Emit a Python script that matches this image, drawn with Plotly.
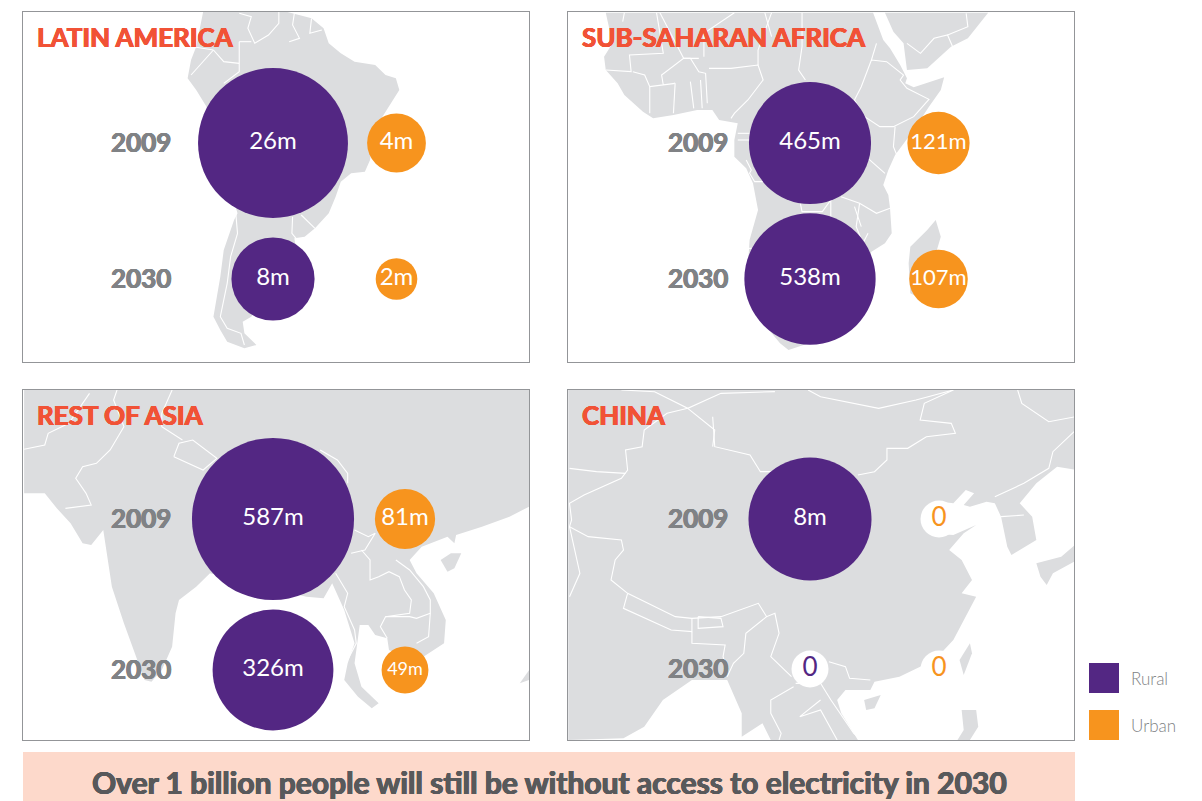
import plotly.graph_objects as go

W, H = 1202, 801
# ---- data (people without electricity, millions) ----
YEARS = ["2009", "2030"]
AREAS = ["Rural", "Urban"]
PANELS = ["LATIN AMERICA", "SUB-SAHARAN AFRICA", "REST OF ASIA", "CHINA"]
LATAM_RURAL = [26, 8]
LATAM_URBAN = [4, 2]
AFRICA_RURAL = [465, 538]
AFRICA_URBAN = [121, 107]
ASIA_RURAL = [587, 326]
ASIA_URBAN = [81, 49]
CHINA_RURAL = [8, 0]
CHINA_URBAN = [0, 0]
BANNER = "Over 1 billion people will still be without access to electricity in 2030"

PURPLE, ORANGE, LAND, GREY, RED = "#532783", "#F7941E", "#DCDDDF", "#808285", "#F15236"
FONT = "Lato"

def heavy(c):
    return f"0.6px 0 0 {c}, -0.6px 0 0 {c}, 0 0.4px 0 {c}, 0 -0.4px 0 {c}"

# ---- background map sketches, in zoom-crop coordinates ----
LATAM_LAND = [[(590,36),(835,36),(905,55),(940,85),(955,130),(990,160),(1030,185),(1090,195),(1120,225),(1150,235),(1160,270),
  (1130,320),(1105,360),(1085,420),(1075,480),(1060,515),(1020,520),(990,545),(975,590),(955,640),(915,685),(885,710),(855,715),
  (860,745),(875,790),(840,860),(760,900),(730,950),(705,965),(710,1000),(745,1035),(710,1045),(660,1025),(640,990),(620,950),
  (630,890),(640,830),(650,750),(680,660),(690,640),(600,320),(570,270),(545,235),(555,180),(570,140)]]
LATAM_LINES = [[(695,40),(730,50),(720,85),(740,130),(780,105),(810,70),(810,36)],[(855,40),(850,75),(870,115),(840,125)],
  [(905,55),(900,100),(935,90)],[(695,125),(730,125)],[(695,125),(695,215),(650,250)],[(620,150),(650,185),(695,190)],
  [(620,150),(585,190),(555,225)],[(560,140),(620,150)],[(685,640),(690,700),(670,770),(660,850),(640,950),(660,985),(700,1000),(710,1035)],
  [(850,650),(848,700),(860,715)],[(875,645),(915,685)]]
AFRICA_LAND = [[(150,38),(940,38),(970,120),(990,145),(1020,195),(1040,235),(1035,250),(1060,262),(1150,232),(1140,270),(1105,320),
  (1060,390),(1005,465),(985,510),(970,555),(985,585),(990,625),(995,700),(975,730),(935,755),(870,950),(750,1030),(690,1050),(665,1030),
  (600,950),(570,800),(575,720),(600,630),(585,550),(565,505),(530,470),(530,420),(540,370),(485,360),(465,330),(420,330),(350,345),
  (290,355),(260,335),(205,285),(185,250),(150,210),(145,170),(170,130)],
  [(975,38),(1000,95),(1030,130),(1040,210),(1100,205),(1170,140),(1220,115),(1280,38)],
  [(1125,660),(1140,710),(1130,745),(1090,900),(1050,880),(1045,790),(1050,740),(1100,690)]]
AFRICA_LINES = [[(205,38),(200,65)],[(300,38),(320,160),(220,165),(225,215),(150,210)],[(230,215),(265,225),(280,260),(355,250),(320,255),(315,225),(380,175),(425,175)],
  [(380,175),(400,175),(425,215),(445,220),(450,310)],[(455,205),(520,205),(600,195),(615,240),(570,300),(530,340),(520,355)],
  [(355,250),(350,340)],[(400,245),(410,325)],[(430,240),(435,325)],[(280,260),(280,340)],[(600,195),(600,150),(640,38)],[(380,175),(310,38)],
  [(730,38),(730,140),(720,210),(740,240)],[(935,180),(980,185),(1030,225),(1020,240),(1040,265),(1105,298),(1060,350),(1000,380),(960,380),(915,350),(885,300),(905,260),(935,180)],
  [(935,180),(950,130)],[(1005,380),(1000,440),(1010,465)],[(925,475),(975,520)],[(845,590),(900,610),(950,640),(990,625)],
  [(725,610),(730,635),(790,635),(815,600),(815,650)],[(900,610),(890,680),(910,730),(925,700)],[(885,620),(905,680)],
  [(1040,130),(1080,160),(1120,115),(1160,105),(1175,140)],[(1160,105),(1220,80),(1215,40)],[(540,400),(575,400)],[(540,420),(575,420)],
  [(565,480),(580,510),(575,520),(590,545),(620,545)],[(570,745),(600,745)],[(530,38),(440,100),(440,170)],[(620,38),(640,110)]]
ASIA_LAND = [[(70,30),(1537,30),(1537,380),(1480,410),(1400,440),(1325,465),(1320,490),(1300,470),(1225,500),(1190,540),(1210,580),(1260,640),
  (1295,720),(1290,790),(1230,830),(1190,840),(1130,810),(1125,775),(1090,765),(1070,735),(1045,735),(1040,770),(1030,850),(1050,920),(1100,970),
  (1080,985),(1040,950),(1000,900),(1010,850),(1030,790),(1000,690),(965,610),(940,655),(890,650),(610,580),(570,620),(520,660),(510,700),
  (500,800),(470,870),(440,905),(420,900),(395,830),(360,730),(325,620),(310,520),(300,450),(265,495),(240,490),(205,430),(165,385),(130,340),(70,340)],
  [(1280,540),(1310,520),(1340,520),(1320,565),(1300,575)],[(1510,910),(1537,870),(1537,900)]]
ASIA_LINES = [[(505,230),(590,270),(630,235),(560,180),(520,190),(505,230)],[(70,208),(130,195),(140,160),(200,130),(260,40)],
  [(340,30),(330,60),(360,140),(320,210),(280,250),(240,260),(220,295),(250,340),(265,375),(190,385)],[(500,30),(470,100),(470,140),(530,180)],
  [(930,210),(980,240),(1010,280),(1010,310)],[(1030,450),(1070,470),(1090,460),(1060,510),(1020,520)],
  [(1050,510),(1075,540),(1075,600),(1100,590),(1130,575),(1160,590),(1175,630),(1195,660),(1190,700),(1120,710),(1105,740),(1125,775)],
  [(1150,540),(1190,570),(1230,620),(1250,660),(1250,700),(1245,770),(1210,790)],[(1120,710),(1190,710),(1210,715),(1250,700)],
  [(975,580),(1010,640),(1000,680),(1030,750),(1035,790),(1010,840)]]
CHINA_LAND = [[(32,27),(1258,27),(1258,270),(1210,260),(1160,310),(1120,370),(1150,410),(1160,480),(1100,525),(1090,500),(1075,410),(1060,370),
  (1040,365),(1000,380),(985,375),(1010,340),(990,330),(960,370),(930,365),(890,400),(900,460),(960,465),(1015,435),(985,460),(950,510),(980,540),
  (1005,600),(980,640),(1015,650),(985,720),(960,780),(930,820),(880,860),(830,890),(770,905),(760,930),(700,930),(680,960),(690,1000),(730,1080),
  (520,1080),(500,1030),(450,1070),(450,1000),(415,900),(330,900),(260,960),(215,1040),(165,1075),(32,1080)],
  [(1000,790),(1005,820),(985,885),(975,840)],[(745,960),(785,945),(770,985),(750,990)],
  [(1160,550),(1220,530),(1258,490),(1258,540),(1200,580),(1185,615),(1170,590)],[(980,990),(1015,990),(1020,1040),(1000,1080),(970,1080),(985,1050)]]
CHINA_LINES = [[(380,110),(385,200),(470,225),(495,275),(530,275)],[(730,285),(770,275),(800,240),(800,205),(850,205),(895,170),(965,160),(955,130),(880,120),(890,70),(960,30)],
  [(610,30),(640,50),(780,85),(870,60),(960,30)],[(320,85),(385,150),(380,200)],[(160,30),(240,35),(320,85),(400,40),(530,35)],
  [(320,85),(270,100),(215,150),(210,200),(170,210),(175,270),(160,295),(70,345),(35,370),(40,420),(35,440),(80,470),(160,480),(165,510),(145,540),(135,600),(175,640),(240,680),(290,710),(330,715),(400,710),(490,670),(510,710),(530,700),(540,760),(520,830),(570,890)],
  [(1115,30),(1125,70),(1190,125),(1255,110)],[(1255,150),(1200,215),(1190,265),(1130,310),(1060,350)],[(1075,410),(1130,405)],
  [(175,640),(165,685),(280,750),(330,755),(330,715)],[(345,710),(400,715),(405,740),(345,745),(345,710)],[(330,755),(330,790),(410,795),(405,830),(415,870)],
  [(510,710),(460,760),(455,820),(430,850),(415,890)],[(35,265),(100,275),(170,280)],[(660,845),(700,860),(710,895),(760,900)],
  [(575,920),(520,960),(520,1000),(545,1060),(540,1080)],[(580,910),(640,910),(665,960),(720,1060),(740,1080)],[(640,960),(590,1010),(640,990),(680,1080)],[(35,440),(60,580),(35,650)]]

# ---- layout of each panel (page pixels) ----
PANEL_CFG = [
  dict(box=(23,529,12,362), rural=LATAM_RURAL, urban=LATAM_URBAN, cx=(273,396.5), cy=(143,279), k=29.4, year_x=140.5,
       land=LATAM_LAND, lines=LATAM_LINES, zoom=(0,0,2.905,3.0), tsize=[[24,24],[24,24]]),
  dict(box=(568,1074,12,362), rural=AFRICA_RURAL, urban=AFRICA_URBAN, cx=(810,938.5), cy=(143,279), k=5.66, year_x=697.5,
       land=AFRICA_LAND, lines=AFRICA_LINES, zoom=(555,0,2.955,3.0), tsize=[[24,22],[24,22]]),
  dict(box=(23,529,390,740), rural=ASIA_RURAL, urban=ASIA_URBAN, cx=(273,405), cy=(519,670), k=6.69, year_x=140.5,
       land=ASIA_LAND, lines=ASIA_LINES, zoom=(0,380,2.905,3.0), tsize=[[24,24],[24,18]]),
  dict(box=(568,1074,390,740), rural=CHINA_RURAL, urban=CHINA_URBAN, cx=(810,939), cy=(519,669), k=43.5, year_x=697.5,
       land=CHINA_LAND, lines=CHINA_LINES, zoom=(555,380,2.41,3.0), tsize=[[24,26],[26,26]]),
]
ZERO_SIZE = 37

fig = go.Figure()
layout = {}
annotations = []
shapes = []

for i, (name, p) in enumerate(zip(PANELS, PANEL_CFG)):
    x0, x1, y0, y1 = p["box"]
    ox, oy, sx, sy = p["zoom"]
    a, b = f"x{i+1}", f"y{i+1}"
    c, d = f"x{i+5}", f"y{i+5}"
    # base axes: map background in page pixels
    dom_x = [x0 / W, x1 / W]
    dom_y = [1 - y1 / H, 1 - y0 / H]
    layout[f"xaxis{i+1}"] = dict(domain=dom_x, range=[x0, x1], anchor=b, showgrid=False, zeroline=False,
                                 showticklabels=False, ticks="", showline=True, mirror=True, linecolor="#939598", linewidth=1)
    layout[f"yaxis{i+1}"] = dict(domain=dom_y, range=[y1, y0], anchor=a, showgrid=False, zeroline=False,
                                 showticklabels=False, ticks="", showline=True, mirror=True, linecolor="#939598", linewidth=1)
    # data axes: categorical, overlaying the map
    dx = p["cx"][1] - p["cx"][0]
    dy = p["cy"][1] - p["cy"][0]
    layout[f"xaxis{i+5}"] = dict(type="category", categoryorder="array", categoryarray=AREAS, overlaying=a, anchor=d, visible=False,
                                 range=[(x0 - p["cx"][0]) / dx, (x1 - p["cx"][0]) / dx])
    layout[f"yaxis{i+5}"] = dict(type="category", categoryorder="array", categoryarray=YEARS, overlaying=b, anchor=c, visible=False,
                                 range=[(y1 - p["cy"][0]) / dy, (y0 - p["cy"][0]) / dy])
    for poly in p["land"]:
        pts = poly + [poly[0]]
        fig.add_trace(go.Scatter(x=[ox + q[0] / sx for q in pts], y=[oy + q[1] / sy for q in pts], mode="lines", fill="toself",
                                 fillcolor=LAND, line=dict(width=0, color=LAND), xaxis=a, yaxis=b, hoverinfo="skip", showlegend=False))
    for line in p["lines"]:
        fig.add_trace(go.Scatter(x=[ox + q[0] / sx for q in line], y=[oy + q[1] / sy for q in line], mode="lines",
                                 line=dict(width=1.1, color="white"), xaxis=a, yaxis=b, hoverinfo="skip", showlegend=False))
    for j, (area, vals, col) in enumerate(zip(AREAS, (p["rural"], p["urban"]), (PURPLE, ORANGE))):
        sizes = [p["k"] * v ** 0.5 if v else ZERO_SIZE for v in vals]
        fig.add_trace(go.Scatter(
            x=[area] * len(YEARS), y=YEARS, mode="markers+text",
            marker=dict(size=sizes, color=[col if v else "white" for v in vals], line=dict(width=0), opacity=1),
            text=[f"{v}m" if v else "0" for v in vals], textposition="middle center",
            textfont=dict(family=FONT, size=[p["tsize"][k][j] for k in range(2)],
                          color=["white" if v else col for v in vals]),
            xaxis=c, yaxis=d, name=area, showlegend=False, cliponaxis=False))
    # panel title and year labels
    annotations.append(dict(text=name, xref="paper", yref="paper", x=(x0 + 11.5) / W, y=1 - (y0 + 24.5) / H, xanchor="left", yanchor="middle",
                            showarrow=False, font=dict(family=FONT, size=26, color=RED, weight=700, shadow=heavy(RED))))
    for yr, yy in zip(YEARS, p["cy"]):
        annotations.append(dict(text=yr, xref="paper", yref="paper", x=p["year_x"] / W, y=1 - (yy - 1.5) / H, xanchor="center", yanchor="middle",
                                showarrow=False, font=dict(family=FONT, size=26, color=GREY, weight=700, shadow=heavy(GREY))))

# banner
shapes.append(dict(type="rect", xref="paper", yref="paper", x0=23 / W, x1=1075 / W, y0=0, y1=1 - 752 / H, fillcolor="#FDD9CB", line_width=0, layer="below"))
annotations.append(dict(text=BANNER, xref="paper", yref="paper", x=549 / W, y=1 - 782 / H, xanchor="center", yanchor="middle", showarrow=False,
                        font=dict(family=FONT, size=30, color="#58595B", weight=700, shadow=heavy("#58595B"))))
# legend
for label, col, top in zip(AREAS, (PURPLE, ORANGE), (663, 710)):
    shapes.append(dict(type="rect", xref="paper", yref="paper", x0=1089 / W, x1=1119 / W, y0=1 - (top + 30) / H, y1=1 - top / H, fillcolor=col, line_width=0))
    annotations.append(dict(text=label, xref="paper", yref="paper", x=1129 / W, y=1 - (top + 15) / H, xanchor="left", yanchor="middle", showarrow=False,
                            font=dict(family=FONT, size=17, color=GREY, weight=300)))

fig.update_layout(width=W, height=H, margin=dict(l=0, r=0, t=0, b=0), paper_bgcolor="white", plot_bgcolor="white",
                  showlegend=False, annotations=annotations, shapes=shapes, **layout)
fig.write_html("out.html", config=dict(displayModeBar=False),
               post_script="document.body.style.margin='0';document.body.style.overflow='hidden';")
